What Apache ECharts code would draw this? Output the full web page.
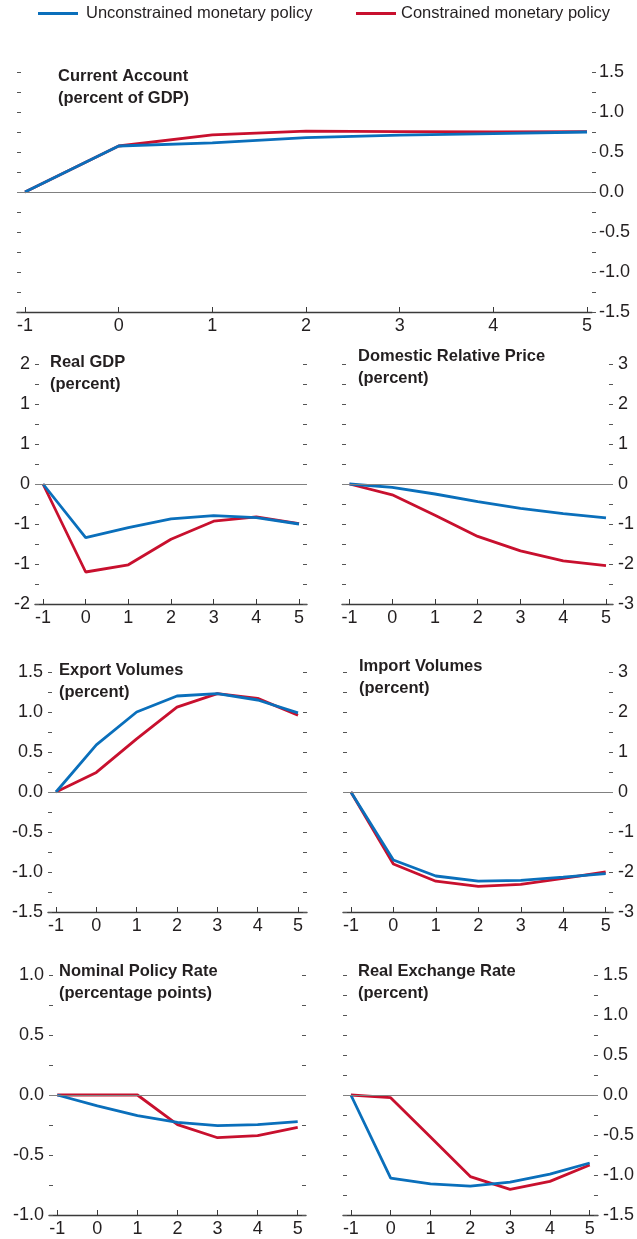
<!DOCTYPE html>
<html><head><meta charset="utf-8">
<script src="https://cdn.jsdelivr.net/npm/echarts@6/dist/echarts.min.js"></script>
<style>html,body{margin:0;padding:0;background:#fff}#c{width:637px;height:1239px}</style>
</head><body><div id="c"></div>
<script>
// ---- data ----
const periods = [-1, 0, 1, 2, 3, 4, 5];
const xLabels = ['-1', '0', '1', '2', '3', '4', '5'];
const seriesNames = ['Unconstrained monetary policy', 'Constrained monetary policy'];

const caUnc = [0, 0.575, 0.615, 0.68, 0.71, 0.73, 0.75];
const caCon = [0, 0.575, 0.715, 0.76, 0.755, 0.75, 0.755];
const gdpUnc = [0, -0.67, -0.545, -0.435, -0.395, -0.42, -0.5];
const gdpCon = [0, -1.1, -1.01, -0.69, -0.465, -0.41, -0.495];
const priceUnc = [0, -0.085, -0.25, -0.44, -0.61, -0.74, -0.845];
const priceCon = [0, -0.27, -0.78, -1.31, -1.67, -1.92, -2.04];
const expUnc = [0, 0.59, 1.0, 1.2, 1.23, 1.15, 0.99];
const expCon = [0, 0.245, 0.665, 1.06, 1.23, 1.17, 0.96];
const impUnc = [0, -1.7, -2.1, -2.23, -2.21, -2.13, -2.04];
const impCon = [0, -1.8, -2.23, -2.36, -2.31, -2.16, -2.0];
const rateUnc = [0, -0.09, -0.172, -0.228, -0.256, -0.247, -0.222];
const rateCon = [0, 0, 0, -0.247, -0.356, -0.339, -0.269];
const rerUnc = [0, -1.04, -1.11, -1.14, -1.09, -0.99, -0.85];
const rerCon = [0, -0.034, -0.525, -1.02, -1.18, -1.08, -0.874];

const tickVals15 = [-1.5, -1, -0.5, 0, 0.5, 1, 1.5];
const tickText15 = ['-1.5', '-1.0', '-0.5', '0.0', '0.5', '1.0', '1.5'];
const tickTextGdp = ['-2', '-1', '-1', '0', '1', '1', '2'];
const tickVals3 = [-3, -2, -1, 0, 1, 2, 3];
const tickText3 = ['-3', '-2', '-1', '0', '1', '2', '3'];
const tickVals1 = [-1, -0.5, 0, 0.5, 1];
const tickText1 = ['-1.0', '-0.5', '0.0', '0.5', '1.0'];

const titles = [
  'Current Account\n(percent of GDP)',
  'Real GDP\n(percent)',
  'Domestic Relative Price\n(percent)',
  'Export Volumes\n(percent)',
  'Import Volumes\n(percent)',
  'Nominal Policy Rate\n(percentage points)',
  'Real Exchange Rate\n(percent)'
];

// ---- layout / style ----
const F = "'Liberation Sans', Arial, sans-serif";
const BLUE = '#0a6fbb', RED = '#c8102e', TXT = '#231f20';

const panels = [
  {unc: caUnc, con: caCon, tv: tickVals15, tt: tickText15, step: 0.25, side: 'right', outRight: true,
   g: {left: 17, top: 72, width: 575, height: 240}, xmin: -1.0854, xmax: 5.053, tl: 58, tt0: 65},
  {unc: gdpUnc, con: gdpCon, tv: tickVals15, tt: tickTextGdp, step: 0.25, side: 'left',
   g: {left: 35, top: 364, width: 272, height: 240}, xmin: -1.1875, xmax: 5.1875, tl: 50, tt0: 351},
  {unc: priceUnc, con: priceCon, tv: tickVals3, tt: tickText3, step: 0.5, side: 'right',
   g: {left: 342, top: 364, width: 271, height: 240}, xmin: -1.175, xmax: 5.164, tl: 358, tt0: 345},
  {unc: expUnc, con: expCon, tv: tickVals15, tt: tickText15, step: 0.25, side: 'left',
   g: {left: 48, top: 672, width: 259, height: 240}, xmin: -1.198, xmax: 5.223, tl: 59, tt0: 659},
  {unc: impUnc, con: impCon, tv: tickVals3, tt: tickText3, step: 0.5, side: 'right',
   g: {left: 343, top: 672, width: 274, height: 240}, xmin: -1.186, xmax: 5.172, tl: 359, tt0: 655},
  {unc: rateUnc, con: rateCon, tv: tickVals1, tt: tickText1, step: 0.25, side: 'left',
   g: {left: 49, top: 975, width: 257, height: 240}, xmin: -1.207, xmax: 5.207, tl: 59, tt0: 960},
  {unc: rerUnc, con: rerCon, tv: tickVals15, tt: tickText15, step: 0.25, side: 'right',
   g: {left: 343, top: 975, width: 259, height: 240}, xmin: -1.198, xmax: 5.208, tl: 358, tt0: 960}
];

const grid = [], xAxis = [], yAxis = [], series = [], title = [];
panels.forEach((p, i) => {
  grid.push(Object.assign({}, p.g));
  const ymin = p.tv[0], ymax = p.tv[p.tv.length - 1];
  xAxis.push({
    type: 'value', gridIndex: i, min: p.xmin, max: p.xmax,
    axisLine: {show: true, onZero: false, lineStyle: {color: '#3a3a3a', width: 1.3}},
    axisTick: {show: true, inside: true, length: 5, customValues: periods, lineStyle: {color: '#3a3a3a', width: 1}},
    axisLabel: {show: true, customValues: periods, margin: 5, fontFamily: F, fontSize: 18, color: TXT,
      formatter: v => { const k = periods.indexOf(Math.round(v)); return k >= 0 ? xLabels[k] : ''; }},
    splitLine: {show: false}
  });
  const fmt = v => {
    for (let k = 0; k < p.tv.length; k++) if (Math.abs(p.tv[k] - v) < 1e-6) return p.tt[k];
    return '';
  };
  ['left', 'right'].forEach(side => {
    const labelled = side === p.side;
    const inside = !(side === 'right' && p.outRight);
    yAxis.push({
      type: 'value', gridIndex: i, position: side, min: ymin, max: ymax, interval: p.step,
      axisLine: {show: false, onZero: false},
      axisTick: {show: true, inside: inside, length: 4, lineStyle: {color: '#555', width: 1}},
      axisLabel: {show: labelled, margin: inside ? 5 : 7, fontFamily: F, fontSize: 18, color: TXT,
        formatter: fmt, showMinLabel: true, showMaxLabel: true},
      splitLine: {show: false}
    });
  });
  const yIdx = i * 2 + (p.side === 'left' ? 0 : 1);
  series.push({
    name: seriesNames[1], type: 'line', xAxisIndex: i, yAxisIndex: yIdx,
    data: periods.map((x, k) => [x, p.con[k]]),
    showSymbol: false, symbol: 'none', lineStyle: {color: RED, width: 2.8}, itemStyle: {color: RED},
    markLine: {silent: true, symbol: 'none', label: {show: false},
      lineStyle: {color: '#808080', width: 1.2, type: 'solid'}, data: [{yAxis: 0}]},
    z: 2
  });
  series.push({
    name: seriesNames[0], type: 'line', xAxisIndex: i, yAxisIndex: yIdx,
    data: periods.map((x, k) => [x, p.unc[k]]),
    showSymbol: false, symbol: 'none', lineStyle: {color: BLUE, width: 2.8}, itemStyle: {color: BLUE},
    z: 3
  });
  title.push({
    text: titles[i], left: p.tl, top: p.tt0, padding: 0,
    textStyle: {fontFamily: F, fontWeight: 'bold', fontSize: 16.5, lineHeight: 22, color: TXT}
  });
});

const legendBase = {
  top: 5, padding: 0, icon: 'rect', itemWidth: 40, itemHeight: 3, itemGap: 0,
  textStyle: {fontFamily: F, fontSize: 16.5, color: TXT}
};

const chart = echarts.init(document.getElementById('c'), null, {renderer: 'canvas'});
chart.setOption({
  animation: false,
  backgroundColor: '#fff',
  title: title,
  legend: [
    Object.assign({}, legendBase, {left: 38, data: [seriesNames[0]],
      textStyle: Object.assign({}, legendBase.textStyle, {padding: [0, 0, 0, 3]})}),
    Object.assign({}, legendBase, {left: 356, data: [seriesNames[1]]})
  ],
  grid: grid, xAxis: xAxis, yAxis: yAxis, series: series
});
</script></body></html>
